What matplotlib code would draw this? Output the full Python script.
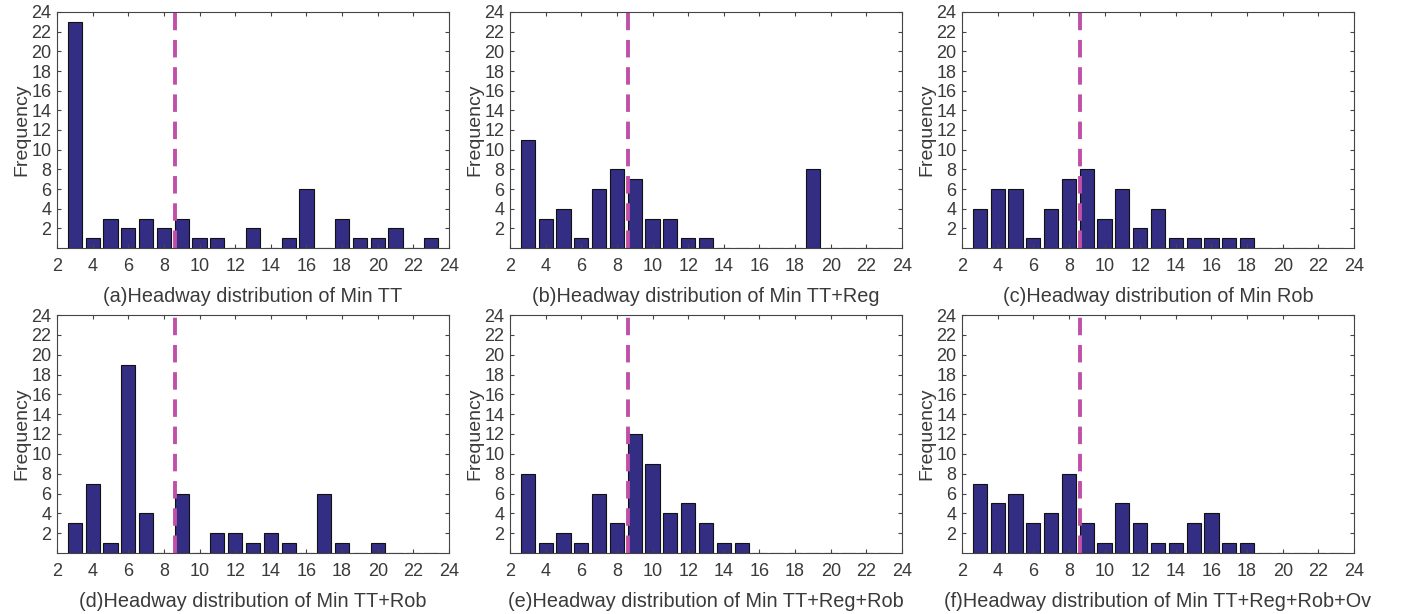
import numpy as np
import matplotlib
matplotlib.use("Agg")
import matplotlib.pyplot as plt

plt.rcParams['font.family'] = ['Liberation Sans', 'DejaVu Sans']

headway = list(range(3, 24))

freq_a = [23, 1, 3, 2, 3, 2, 3, 1, 1, 0, 2, 0, 1, 6, 0, 3, 1, 1, 2, 0, 1]
freq_b = [11, 3, 4, 1, 6, 8, 7, 3, 3, 1, 1, 0, 0, 0, 0, 0, 8, 0, 0, 0, 0]
freq_c = [4, 6, 6, 1, 4, 7, 8, 3, 6, 2, 4, 1, 1, 1, 1, 1, 0, 0, 0, 0, 0]
freq_d = [3, 7, 1, 19, 4, 0, 6, 0, 2, 2, 1, 2, 1, 0, 6, 1, 0, 1, 0, 0, 0]
freq_e = [8, 1, 2, 1, 6, 3, 12, 9, 4, 5, 3, 1, 1, 0, 0, 0, 0, 0, 0, 0, 0]
freq_f = [7, 5, 6, 3, 4, 8, 3, 1, 5, 3, 1, 1, 3, 4, 1, 1, 0, 0, 0, 0, 0]

titles = [
    "(a)Headway distribution of Min TT",
    "(b)Headway distribution of Min TT+Reg",
    "(c)Headway distribution of Min Rob",
    "(d)Headway distribution of Min TT+Rob",
    "(e)Headway distribution of Min TT+Reg+Rob",
    "(f)Headway distribution of Min TT+Reg+Rob+Ov",
]
all_freq = [freq_a, freq_b, freq_c, freq_d, freq_e, freq_f]
mean_line = 8.6

bar_color = '#332d84'
line_color = '#c04fa8'
text_color = '#3a3a3a'

fig = plt.figure(figsize=(14.1, 6.14), dpi=100)

lefts = [57, 510, 962]
boxes = [(12, 248), (315, 553)]

for i, (title, freq) in enumerate(zip(titles, all_freq)):
    row, col = divmod(i, 3)
    top, bot = boxes[row]
    ax = fig.add_axes([lefts[col] / 1410, (614 - bot) / 614, 392 / 1410, (bot - top) / 614])
    ax.bar(headway, freq, width=0.8, color=bar_color, edgecolor='#111111', linewidth=0.8)
    ax.axvline(mean_line, color=line_color, linestyle=(0, (4.5, 2.5)), linewidth=2.8)
    ax.set_xlim(2, 24)
    ax.set_ylim(0, 24)
    ax.set_xticks(range(2, 25, 2))
    ax.set_yticks(range(2, 25, 2))
    ax.tick_params(direction='in', top=True, right=True, labelsize=13,
                   colors='#444444', labelcolor=text_color, length=3, width=0.8)
    ax.tick_params(axis='x', pad=7)
    ax.tick_params(axis='y', pad=4)
    for s in ax.spines.values():
        s.set_color('#444444')
        s.set_linewidth(0.8)
    ax.set_ylabel("Frequency", fontsize=14, color=text_color, labelpad=1)
    ax.set_xlabel(title, fontsize=14.3, color=text_color, labelpad=9)

fig.savefig("out.png", dpi=100)
